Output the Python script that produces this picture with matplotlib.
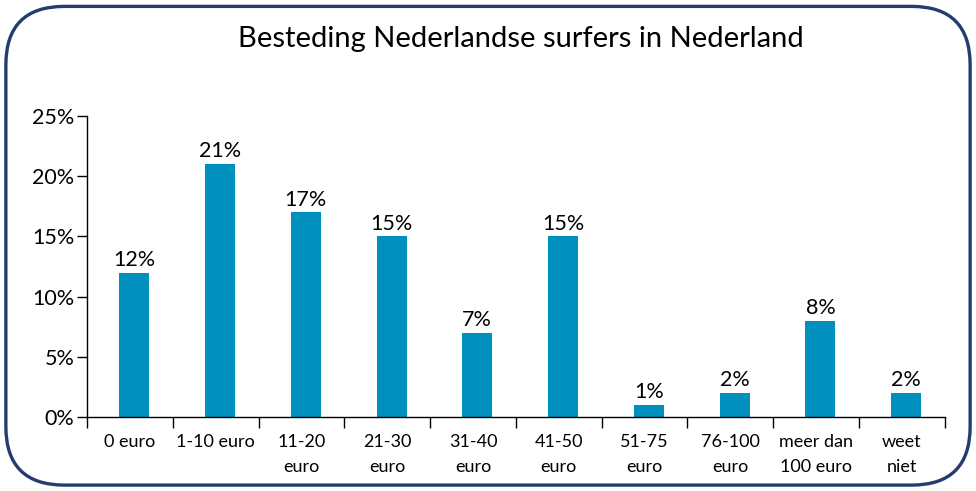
import matplotlib
matplotlib.use("Agg")
import matplotlib.pyplot as plt
import matplotlib.ticker as mticker
from matplotlib.patches import FancyBboxPatch
import numpy as np

plt.rcParams["font.family"] = ["Lato", "DejaVu Sans"]

# ── Data ─────────────────────────────────────────────────────────────────────
categories = ["0 euro", "1-10 euro", "11-20\neuro", "21-30\neuro", "31-40\neuro",
              "41-50\neuro", "51-75\neuro", "76-100\neuro", "meer dan\n100 euro",
              "weet\nniet"]
values = [12, 21, 17, 15, 7, 15, 1, 2, 8, 2]
yticks = [0, 5, 10, 15, 20, 25]

BAR_C = "#0090bd"
FRAME_C = "#243c6e"

fig = plt.figure(figsize=(9.76, 4.91), dpi=100)

# rounded frame around the whole chart
frame = FancyBboxPatch((0.006, 0.012), 0.988, 0.975,
                       boxstyle="round,pad=0,rounding_size=0.06",
                       transform=fig.transFigure, fill=False,
                       edgecolor=FRAME_C, linewidth=2.4,
                       mutation_aspect=976 / 491)
fig.patches.append(frame)

ax = fig.add_axes([0.0891, 0.1507, 0.879, 0.613])

x = np.arange(len(categories))
bx = x + 0.05  # bars sit a touch right of the category centre
ax.bar(bx, values, width=0.35, color=BAR_C, zorder=2)
for xi, v in zip(bx, values):
    ax.annotate(f"{v}%", (xi, v), xytext=(0, 2), textcoords="offset points",
                ha="center", va="bottom", fontsize=15.5)

ax.set_xlim(-0.5, len(categories) - 0.5)
ax.set_ylim(0, 25)
ax.set_yticks(yticks)
ax.yaxis.set_major_formatter(mticker.FuncFormatter(lambda v, p: f"{v:.0f}%"))
ax.tick_params(axis="y", labelsize=15.5, length=7, width=1.0, pad=2)

# x ticks at category boundaries, labels centred below each bar
ax.set_xticks(np.arange(-0.5, len(categories)), minor=False)
ax.set_xticklabels([])
ax.set_xticks(x, minor=True)
ax.set_xticklabels(categories, minor=True, fontsize=13, linespacing=1.75)
ax.tick_params(axis="x", which="major", length=8, width=1.0, direction="out")
ax.tick_params(axis="x", which="minor", length=0, pad=12)

for s in ["top", "right"]:
    ax.spines[s].set_visible(False)
ax.spines["left"].set_linewidth(1.0)
ax.spines["bottom"].set_linewidth(1.0)

fig.text(0.534, 0.92, "Besteding Nederlandse surfers in Nederland",
         ha="center", va="center", fontsize=21)

fig.savefig("out.png", dpi=100)
